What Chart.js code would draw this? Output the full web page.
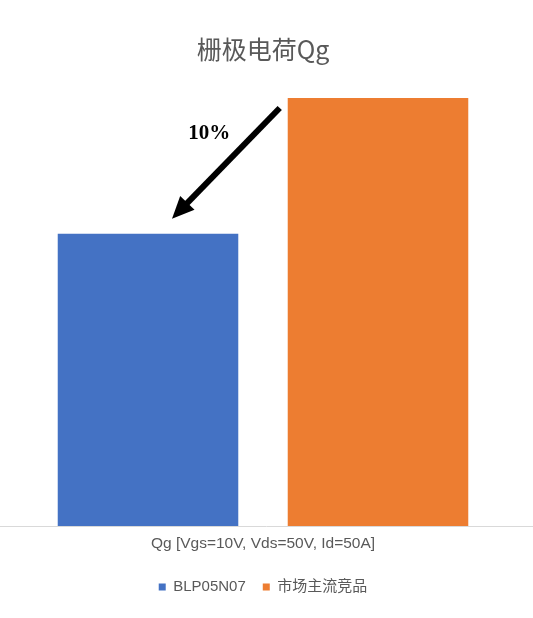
<!DOCTYPE html>
<html>
<head>
<meta charset="utf-8">
<script src="https://cdn.jsdelivr.net/npm/chart.js@4.4.1/dist/chart.umd.min.js"></script>
<style>
  html, body { margin: 0; padding: 0; background: #ffffff; }
  #wrap { width: 533px; height: 618px; }
</style>
</head>
<body>
<div id="wrap"><canvas id="c"></canvas></div>
<script>
const titleText = '栅极电荷Qg';
const categories = ['Qg [Vgs=10V, Vds=50V, Id=50A]'];
const seriesNames = ['BLP05N07', '市场主流竞品'];
const blpValues = [68.3];
const competitorValues = [100];
const annotationText = '10%';
const seriesColors = ['#4472C4', '#ED7D31'];

const baselinePlugin = {
  id: 'baseline',
  afterDatasetsDraw(chart) {
    const ctx = chart.ctx;
    const y = Math.round(chart.scales.y.getPixelForValue(0)) + 0.5;
    ctx.save();
    ctx.strokeStyle = '#D9D9D9';
    ctx.lineWidth = 1;
    ctx.beginPath();
    ctx.moveTo(0, y);
    ctx.lineTo(chart.width, y);
    ctx.stroke();
    ctx.restore();
  }
};

const arrowPlugin = {
  id: 'arrowNote',
  afterDatasetsDraw(chart) {
    const blue = chart.getDatasetMeta(0).data[0];
    const orange = chart.getDatasetMeta(1).data[0];
    if (!blue || !orange) return;
    const ctx = chart.ctx;
    const sx = orange.x - orange.width / 2 - 8;
    const sy = orange.y + 10;
    const tx = blue.x + 24;
    const ty = blue.y - 15;
    const ang = Math.atan2(ty - sy, tx - sx);
    const headLen = 22, headHalf = 10;
    const bx = tx - headLen * Math.cos(ang);
    const by = ty - headLen * Math.sin(ang);
    ctx.save();
    ctx.strokeStyle = '#000';
    ctx.fillStyle = '#000';
    ctx.lineWidth = 6;
    ctx.beginPath();
    ctx.moveTo(sx, sy);
    ctx.lineTo(bx + 2 * Math.cos(ang), by + 2 * Math.sin(ang));
    ctx.stroke();
    ctx.beginPath();
    ctx.moveTo(tx, ty);
    ctx.lineTo(bx + headHalf * Math.sin(ang), by - headHalf * Math.cos(ang));
    ctx.lineTo(bx - headHalf * Math.sin(ang), by + headHalf * Math.cos(ang));
    ctx.closePath();
    ctx.fill();
    const mx = (sx + tx) / 2, my = (sy + ty) / 2;
    ctx.font = 'bold 21px "Liberation Serif", "Times New Roman", serif';
    ctx.textAlign = 'center';
    ctx.textBaseline = 'middle';
    ctx.fillText(annotationText, mx - 16.5, my - 29.5);
    ctx.restore();
  }
};

new Chart(document.getElementById('c'), {
  type: 'bar',
  data: {
    labels: categories,
    datasets: [
      { label: seriesNames[0], data: blpValues, backgroundColor: seriesColors[0], borderWidth: 0 },
      { label: seriesNames[1], data: competitorValues, backgroundColor: seriesColors[1], borderWidth: 0 }
    ]
  },
  options: {
    responsive: true,
    maintainAspectRatio: false,
    animation: false,
    datasets: { bar: { categoryPercentage: 0.8745, barPercentage: 0.785 } },
    layout: { padding: { left: 0, right: 7, top: 0, bottom: 13.5 } },
    scales: {
      x: {
        grid: { display: false, drawTicks: false },
        border: { display: false },
        ticks: { color: '#595959', font: { family: '"Liberation Sans", "Noto Sans CJK SC", sans-serif', size: 15.5 }, padding: 9 }
      },
      y: {
        display: false,
        min: 0,
        max: 105
      }
    },
    plugins: {
      title: {
        display: true,
        text: titleText,
        color: '#595959',
        font: { family: '"Noto Sans CJK SC", sans-serif', size: 25, weight: 'normal' },
        padding: { top: 34.5, bottom: 12.1 }
      },
      legend: {
        position: 'bottom',
        labels: {
          color: '#595959',
          boxWidth: 7,
          boxHeight: 7,
          padding: 17,
          font: { family: '"Liberation Sans", "Noto Sans CJK SC", sans-serif', size: 15 }
        }
      },
      tooltip: { enabled: false }
    }
  },
  plugins: [baselinePlugin, arrowPlugin]
});
</script>
</body>
</html>
